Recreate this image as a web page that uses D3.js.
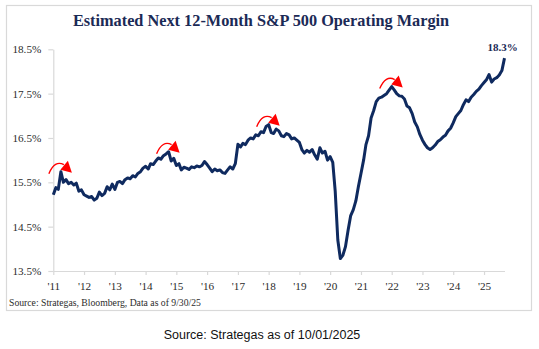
<!DOCTYPE html>
<html>
<head>
<meta charset="utf-8">
<script src="https://cdn.jsdelivr.net/npm/d3@7"></script>
<style>
  body { margin: 0; background: #fff; }
</style>
</head>
<body>
<svg id="chart" width="539" height="349"></svg>
<script>
// monthly readings, Jan 2011 .. Sep 2025
let firstMonth = "2011-01-01";
let marginValues = [
  15.22, 15.38, 15.34, 15.74, 15.50, 15.56, 15.47, 15.50, 15.44, 15.48, 15.30, 15.33,
  15.22, 15.19, 15.16, 15.18, 15.10, 15.14, 15.28, 15.20, 15.25, 15.40, 15.33, 15.46,
  15.34, 15.50, 15.52, 15.47, 15.56, 15.60, 15.58, 15.65, 15.62, 15.70, 15.74, 15.82,
  15.86, 15.80, 15.92, 15.90, 15.98, 16.05, 16.02, 16.10, 16.14, 16.19, 15.98, 16.04,
  15.88, 15.92, 15.78, 15.84, 15.82, 15.79, 15.85, 15.83, 15.87, 15.85, 15.88, 15.97,
  15.90, 15.82, 15.74, 15.80, 15.76, 15.78, 15.72, 15.70, 15.78, 15.85, 15.80, 15.92,
  16.36, 16.30, 16.38, 16.35, 16.45, 16.50, 16.48, 16.57, 16.55, 16.64, 16.62, 16.76,
  16.80, 16.62, 16.60, 16.70, 16.66, 16.55, 16.53, 16.60, 16.57, 16.48, 16.50, 16.45,
  16.40, 16.23, 16.16, 16.22, 16.18, 16.24, 16.12, 16.02, 16.28, 16.16, 16.20, 16.00,
  16.08, 15.95, 15.30, 14.20, 13.78, 13.86, 14.05, 14.42, 14.75, 14.88, 15.08, 15.40,
  15.70, 16.00, 16.35, 16.55, 16.95, 17.12, 17.32, 17.40, 17.42, 17.46, 17.50, 17.58,
  17.66, 17.58, 17.50, 17.45, 17.44, 17.38, 17.22, 17.18, 17.05, 16.86, 16.75, 16.58,
  16.45, 16.35, 16.28, 16.24, 16.28, 16.34, 16.42, 16.46, 16.52, 16.56, 16.66, 16.72,
  16.84, 16.98, 17.05, 17.12, 17.25, 17.36, 17.32, 17.42, 17.48, 17.55, 17.60, 17.68,
  17.75, 17.82, 17.93, 17.76, 17.83, 17.86, 17.92, 18.02, 18.30
];
let yTicks = [13.5, 14.5, 15.5, 16.5, 17.5, 18.5];
let yearTicks = [2011, 2012, 2013, 2014, 2015, 2016, 2017, 2018, 2019, 2020, 2021, 2022, 2023, 2024, 2025];
let yearLabels = ["'11", "'12", "'13", "'14", "'15", "'16", "'17", "'18", "'19", "'20", "'21", "'22", "'23", "'24", "'25"];
let peakMonths = [3, 45, 84, 132];
let endLabel = "18.3%";
let titleText = "Estimated Next 12-Month S&P 500 Operating Margin";
let sourceText = "Source: Strategas, Bloomberg, Data as of 9/30/25";
let captionText = "Source: Strategas as of 10/01/2025";

let navy = "#0f2a5f";
let gridGray = "#d9d9d9";
let serif = "'Liberation Serif', 'DejaVu Serif', serif";

let svg = d3.select("#chart");
let start = new Date(firstMonth + "T00:00:00");
let dates = marginValues.map((v, i) => d3.timeMonth.offset(start, i));
let data = marginValues.map((v, i) => ({date: dates[i], value: v}));

let xScale = d3.scaleTime()
  .domain([dates[0], dates[dates.length - 1]])
  .range([53.3, 504.5]);
let yScale = d3.scaleLinear()
  .domain([13.5, 18.5])
  .range([271, 49.3]);

// outer frame
svg.append("rect")
  .attr("x", 6.5).attr("y", 5.5)
  .attr("width", 525).attr("height", 305)
  .style("fill", "#fff")
  .style("stroke", gridGray)
  .style("stroke-width", 1.2);

svg.append("text")
  .attr("x", 261).attr("y", 26)
  .attr("text-anchor", "middle")
  .text(titleText)
  .style("font-family", serif)
  .style("font-weight", "bold")
  .style("font-size", "16.3px")
  .style("fill", "#1b2a56");

// y axis
let yAxis = svg.append("g")
  .attr("transform", "translate(53.3,0)")
  .call(d3.axisLeft(yScale).tickValues(yTicks).tickSize(5).tickSizeOuter(0).tickPadding(7)
    .tickFormat(d => d.toFixed(1) + "%"));
// x axis
let xAxis = svg.append("g")
  .attr("transform", "translate(0,271)")
  .call(d3.axisBottom(xScale).tickValues(yearTicks.map(y => new Date(y, 0, 1)))
    .tickSize(4).tickSizeOuter(0).tickPadding(7)
    .tickFormat((d, i) => yearLabels[i]));

[yAxis, xAxis].forEach(ax => {
  ax.select(".domain").style("stroke", gridGray).style("stroke-width", 1.2);
  ax.selectAll(".tick line").style("stroke", gridGray).style("stroke-width", 1.2);
  ax.selectAll(".tick text")
    .style("font-family", serif)
    .style("font-size", "11.2px")
    .style("fill", "#2b2b2b");
});

// the series
let line = d3.line()
  .x(d => xScale(d.date))
  .y(d => yScale(d.value));
svg.append("path")
  .datum(data)
  .attr("d", line)
  .style("fill", "none")
  .style("stroke", navy)
  .style("stroke-width", 3)
  .style("stroke-linejoin", "round");

// red "rollover" arrows over each peak
peakMonths.forEach(m => {
  let px = xScale(dates[m]);
  let py = yScale(marginValues[m]);
  svg.append("path")
    .attr("d", `M${px - 12},${py + 2} Q${px - 6},${py - 12} ${px + 3},${py - 7}`)
    .style("fill", "none")
    .style("stroke", "#ff0000")
    .style("stroke-width", 1.4);
  svg.append("polygon")
    .attr("points", `${px - 0.5},${py - 2} ${px + 7},${py - 11} ${px + 11},${py + 1}`)
    .style("fill", "#ff0000");
});

// end value
let last = data[data.length - 1];
svg.append("text")
  .attr("x", xScale(last.date) - 2)
  .attr("y", yScale(last.value) - 7)
  .attr("text-anchor", "middle")
  .text(endLabel)
  .style("font-family", serif)
  .style("font-weight", "bold")
  .style("font-size", "11px")
  .style("fill", "#1b2a56");

svg.append("text")
  .attr("x", 9).attr("y", 306)
  .text(sourceText)
  .style("font-family", serif)
  .style("font-size", "9.7px")
  .style("fill", "#2b2b2b");

svg.append("text")
  .attr("x", 262).attr("y", 339)
  .attr("text-anchor", "middle")
  .text(captionText)
  .style("font-family", "'Liberation Sans', Arial, sans-serif")
  .style("font-size", "12.5px")
  .style("fill", "#111");
</script>
</body>
</html>
